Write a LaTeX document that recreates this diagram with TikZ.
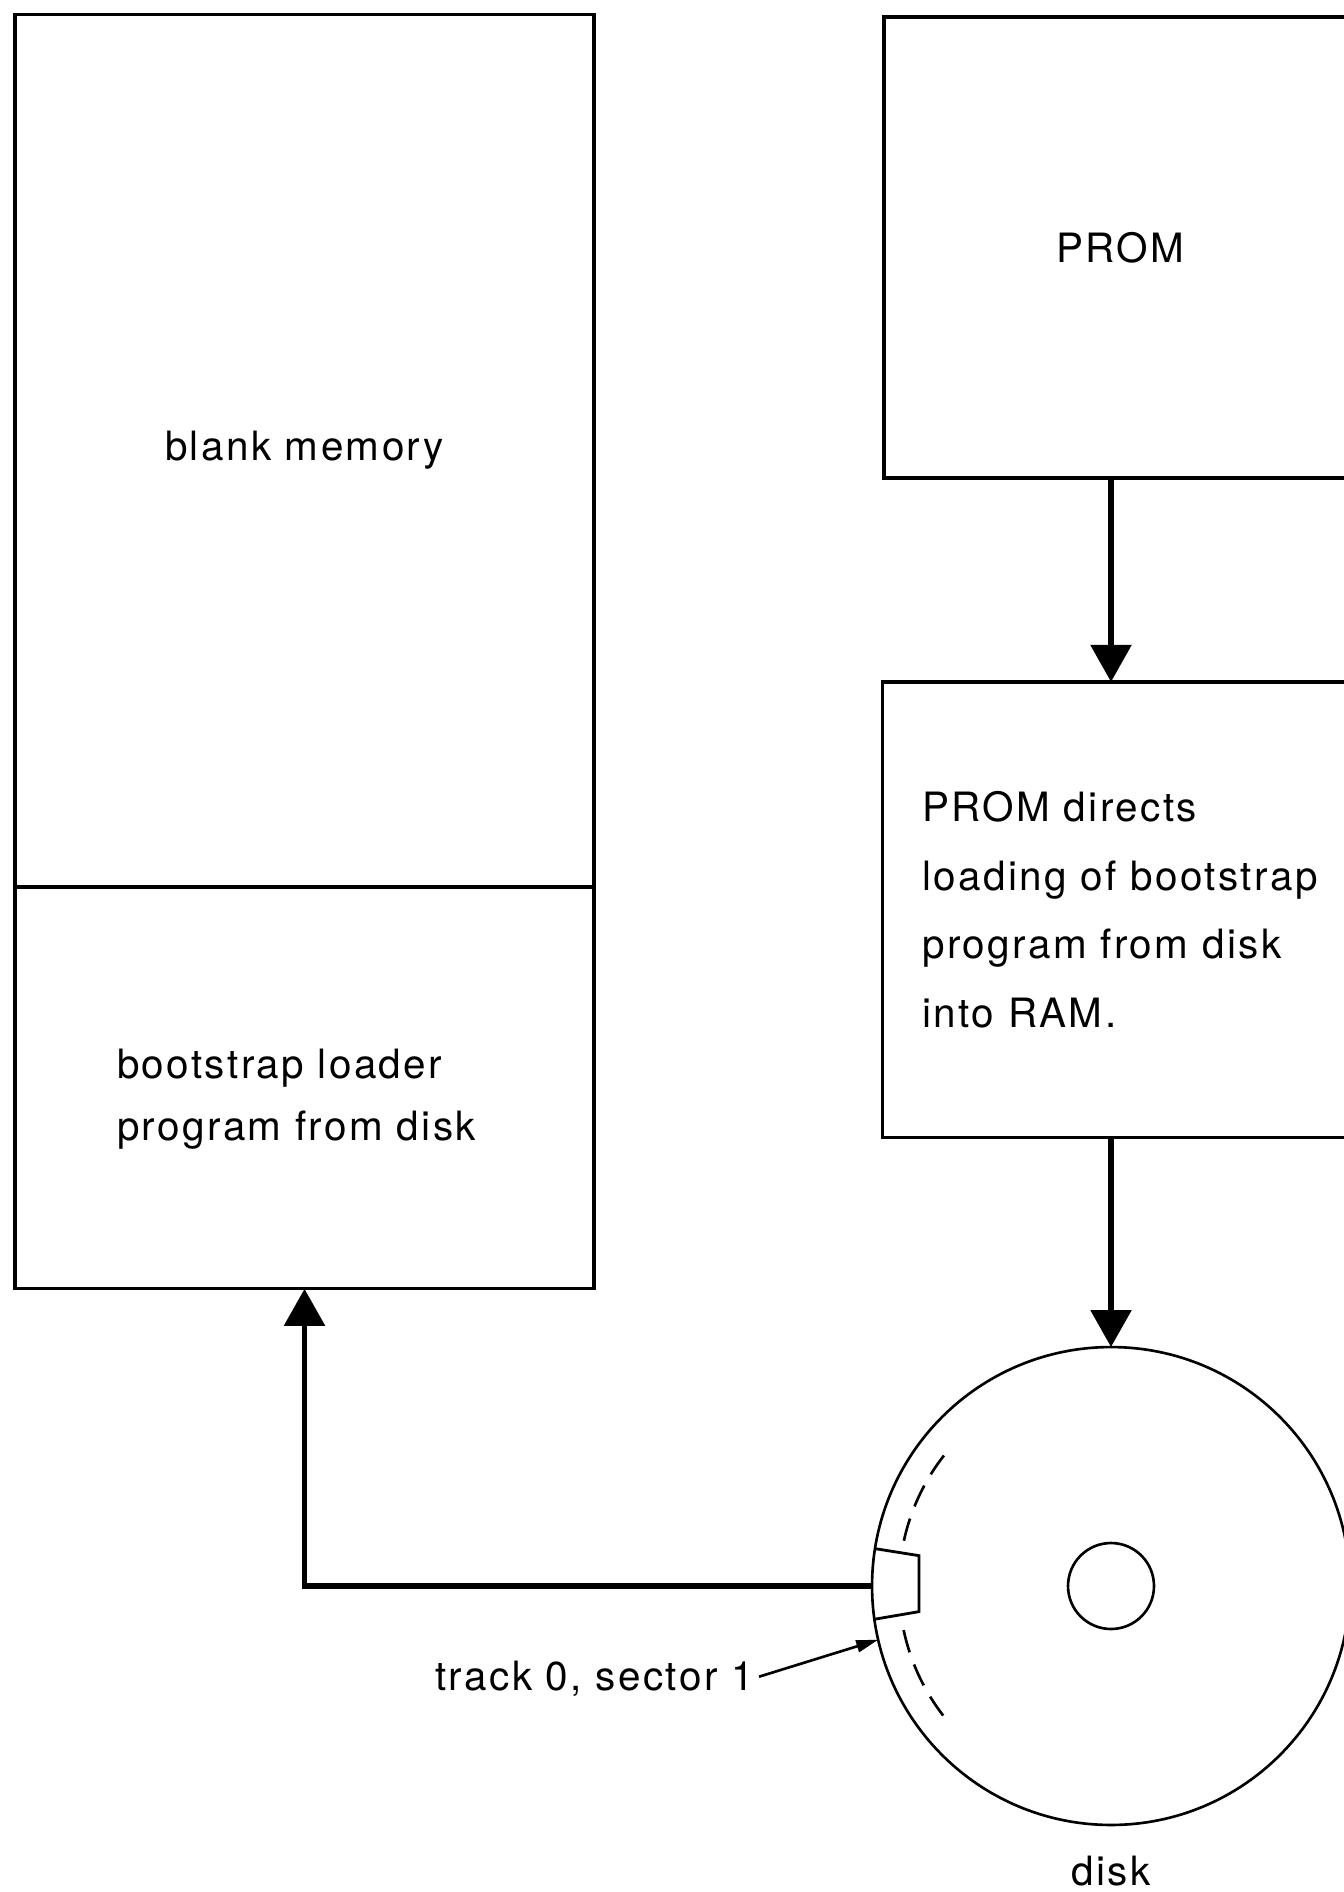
\documentclass[tikz,border=0pt]{standalone}
\usepackage{fontspec}
\newfontfamily\helv[LetterSpace=6]{TeX Gyre Heros}
\usepackage{tikz}
\usetikzlibrary{arrows.meta,positioning}
\tikzset{
  box/.style  = {rectangle, draw=black, line width=1.8pt, outer sep=0pt, inner sep=0pt,
                 align=left, font=\helv\fontsize{23}{39}\selectfont},
  lbl/.style  = {inner sep=0pt, font=\helv\fontsize{23}{39}\selectfont},
  rnd/.style  = {circle, draw=black, line width=1.5pt, outer sep=0pt, inner sep=0pt},
  fl/.style   = {-{Triangle[length=0.74cm, width=0.8cm]}, line width=3.2pt},
  fls/.style  = {-{Triangle[length=0.44cm, width=0.24cm]}, line width=1.5pt},
  trk/.style  = {line width=1.5pt, dash pattern=on 0.46cm off 0.26cm},
}

\begin{document}
\begin{tikzpicture}[x=0.02cm, y=-0.02cm]
  \useasboundingbox (0,0) rectangle (1344,1892);

  \node[box, minimum width=11.58cm, minimum height=17.46cm] (mem) at (304.5,450.5) {blank memory};
  \node[box, minimum width=11.58cm, minimum height=8.04cm, below=0pt of mem] (boot) {};
  \node[lbl, align=left, font=\helv\fontsize{23}{35.5}\selectfont]
        (boottxt) at ([xshift=-0.16cm, yshift=-0.22cm]boot.center) {bootstrap loader\\ program from disk};

  \node[box, minimum width=9.44cm, minimum height=9.22cm] (prom) at (1120,247.5) {PROM};
  \node[box, minimum width=9.5cm, minimum height=9.12cm, below=4.08cm of prom] (dirs)
        {PROM directs\\ loading of bootstrap\\ program from disk\\ into RAM.};

  \node[rnd, minimum size=9.56cm] (disk) at (1111,1586) {};
  \node[rnd, minimum size=1.72cm] (hub) at (disk.center) {};
  \node[lbl, below=0.62cm of disk] (dlbl) {disk};
  \node[lbl, anchor=base east] (sect) at (754,1690) {track 0, sector 1};

  % sector on track 0
  \draw[line width=1.6pt] (disk.171.5) -- ++(44,7) -- ++(0,56) -- (disk.188.5);
  \draw[trk] (disk.center) ++(-142:212) arc[start angle=-142, end angle=-168, radius=212];
  \draw[trk] (disk.center) ++(-192:212) arc[start angle=-192, end angle=-219, radius=212];

  \draw[fl] (prom.south -| disk.north) -- (dirs.north -| disk.north);
  \draw[fl] (dirs.south -| disk.north) -- (disk.north);
  \draw[fl] (disk.west) -| (boot.south);
  \draw[fls, shorten <=3pt] (sect.east) -- (disk.193);

\end{tikzpicture}
\end{document}
